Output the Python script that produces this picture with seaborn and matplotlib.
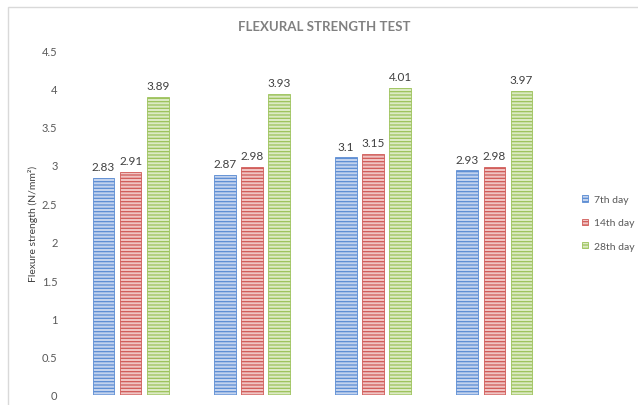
import matplotlib
matplotlib.use("Agg")
import matplotlib.pyplot as plt
import matplotlib.patches as mpatches
import seaborn as sns
import pandas as pd

# Flexural strength (N/mm²) per mix, at three curing ages
mixes = ["Mix 1", "Mix 2", "Mix 3", "Mix 4"]
ages = ["7th day", "14th day", "28th day"]
day7 = [2.83, 2.87, 3.10, 2.93]
day14 = [2.91, 2.98, 3.15, 2.98]
day28 = [3.89, 3.93, 4.01, 3.97]
value_labels = {"7th day": ["2.83", "2.87", "3.1", "2.93"],
                "14th day": ["2.91", "2.98", "3.15", "2.98"],
                "28th day": ["3.89", "3.93", "4.01", "3.97"]}

line_colors = ["#5B8CD3", "#D05A57", "#9CC25A"]
fill_colors = ["#C3D3EE", "#F0C4C3", "#DCEAC4"]

df = pd.DataFrame({
    "mix": mixes * 3,
    "age": [a for a in ages for _ in mixes],
    "strength": day7 + day14 + day28,
})

sns.set_theme(style="white")
plt.rcParams["font.family"] = ["Lato", "DejaVu Sans"]
plt.rcParams["hatch.linewidth"] = 0.9

fig = plt.figure(figsize=(6.38, 4.06), dpi=100)
ax = fig.add_axes([70 / 638, 10 / 406, 485 / 638, 345 / 406])

sns.barplot(data=df, x="mix", y="strength", hue="age", order=mixes,
            hue_order=ages, palette=line_colors, width=0.67, gap=0.2,
            errorbar=None, legend=False, ax=ax)

# horizontal striped fill on each series
for container, lc, fc, age in zip(ax.containers, line_colors, fill_colors, ages):
    for bar in container:
        bar.set_facecolor(fc)
        bar.set_edgecolor(lc)
        bar.set_hatch("-----")
        bar.set_linewidth(0.6)
    ax.bar_label(container, labels=value_labels[age], padding=4,
                 fontsize=8.5, color="#404040")

ax.set_ylim(0, 4.5)
ax.set_xlim(-0.5, 3.5)
ax.set_yticks([0, 0.5, 1, 1.5, 2, 2.5, 3, 3.5, 4, 4.5])
ax.set_yticklabels(["0", "0.5", "1", "1.5", "2", "2.5", "3", "3.5", "4", "4.5"])
ax.tick_params(axis="y", labelsize=8, labelcolor="#595959", length=0, pad=9)
ax.set_xticks([])
ax.set_xlabel("")
ax.set_ylabel("Flexure strength (N/mm²)", fontsize=7.5, color="#404040", labelpad=3)
for s in ax.spines.values():
    s.set_visible(False)

fig.text(324 / 638, 1 - 27 / 406, "FLEXURAL STRENGTH TEST", ha="center", va="center",
         fontsize=9.5, fontweight="bold", color="#808080")

handles = [mpatches.Patch(facecolor=fc, edgecolor=lc, hatch="-----", linewidth=0.6, label=a)
           for a, lc, fc in zip(ages, line_colors, fill_colors)]
fig.legend(handles=handles, loc="center left", bbox_to_anchor=(580 / 638, 1 - 224 / 406),
           frameon=False, fontsize=7.5, handlelength=0.6, handleheight=0.6,
           handletextpad=0.5, labelspacing=1.35, labelcolor="#595959",
           borderaxespad=0, borderpad=0.2)

# chart frame
fig.add_artist(mpatches.Rectangle((8 / 638, -0.1), 1.0, 1.1 - 8 / 406,
                                  transform=fig.transFigure, fill=False,
                                  edgecolor="#D9D9D9", linewidth=1.0))

fig.savefig("out.png", dpi=100)
